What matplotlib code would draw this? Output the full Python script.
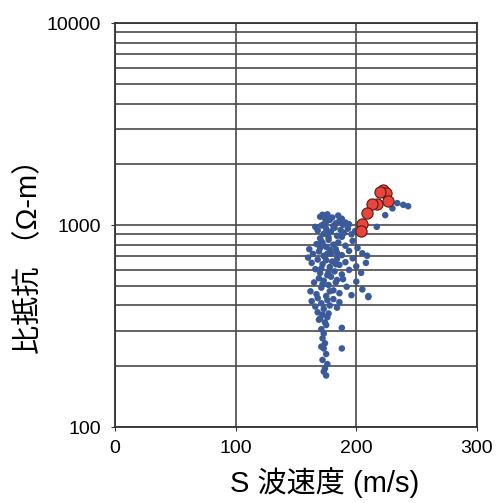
import matplotlib
matplotlib.use('Agg')
import matplotlib.pyplot as plt

# S-wave velocity (m/s) vs resistivity (ohm-m)
# blue cloud, band by band from the top down
band_a_vs = [170, 172, 174, 176, 178, 175, 173, 180, 183, 186, 188, 191, 194, 189, 185]
band_a_rho = [1100, 1125, 1080, 1130, 1060, 1040, 1010, 1090, 1020, 1050, 1075, 1030, 1010, 1005, 1115]
band_b_vs = [166, 168, 171, 173, 175, 177, 179, 181, 184, 187, 190, 193, 196, 199, 170, 176, 182, 188]
band_b_rho = [980, 940, 995, 905, 960, 870, 930, 990, 885, 945, 915, 960, 900, 935, 860, 905, 970, 875]
band_c_vs = [161, 164, 167, 169, 171, 173, 175, 177, 179, 181, 183, 185, 188, 191, 194, 197, 201, 205,
             209, 172, 178, 184, 170, 176]
band_c_rho = [760, 720, 805, 740, 830, 705, 780, 845, 725, 800, 760, 820, 710, 790, 745, 835, 770, 725,
              705, 815, 755, 730, 770, 720]
band_d_vs = [160, 163, 166, 168, 170, 172, 174, 176, 178, 180, 182, 184, 186, 188, 191, 194, 197, 200,
             204, 208, 171, 177, 183, 175]
band_d_rho = [690, 650, 605, 675, 580, 640, 695, 565, 620, 660, 590, 680, 635, 570, 655, 600, 685, 625,
              580, 650, 610, 585, 640, 670]
band_e_vs = [162, 165, 167, 169, 171, 173, 175, 177, 179, 181, 183, 186, 189, 192, 196, 200, 205, 210,
             172, 178, 184]
band_e_rho = [470, 520, 455, 545, 490, 530, 445, 505, 555, 475, 520, 460, 540, 495, 450, 525, 480, 445,
              510, 470, 535]
band_f_vs = [163, 166, 168, 171, 173, 176, 178, 181, 184, 186, 210]
band_f_rho = [420, 395, 435, 410, 385, 425, 400, 430, 390, 415, 440]
band_g_vs = [168, 170, 172, 174, 176, 171, 175, 173, 177, 169, 188]
band_g_rho = [370, 345, 360, 330, 350, 305, 320, 290, 365, 340, 310]
band_h_vs = [172, 174, 173, 175, 172, 176, 174, 173, 175, 171, 188]
band_h_rho = [275, 260, 245, 230, 215, 205, 195, 188, 180, 250, 245]
right_vs = [234, 239, 243, 230, 224, 217]
right_rho = [1285, 1260, 1240, 1210, 1120, 980]

# highlighted (red) points
red_vs = [222, 225, 220, 226, 217, 213, 209, 205, 204]
red_rho = [1490, 1440, 1460, 1315, 1270, 1270, 1146, 1011, 934]

blue_vs = (band_a_vs + band_b_vs + band_c_vs + band_d_vs + band_e_vs
           + band_f_vs + band_g_vs + band_h_vs + right_vs)
blue_rho = (band_a_rho + band_b_rho + band_c_rho + band_d_rho + band_e_rho
            + band_f_rho + band_g_rho + band_h_rho + right_rho)

plt.rcParams['font.family'] = ['Liberation Sans', 'Noto Sans CJK JP', 'DejaVu Sans']

fig = plt.figure(figsize=(5.03, 5.03), dpi=100)
ax = fig.add_axes([0.229, 0.151, 0.719, 0.803])

ax.set_yscale('log')
ax.set_xlim(0, 300)
ax.set_ylim(100, 10000)

ax.scatter(blue_vs, blue_rho, s=22, color='#3a5a9a', edgecolors='none', zorder=3)
ax.scatter(red_vs, red_rho, s=65, color='#e8463a', edgecolors='#5a1a14',
           linewidths=0.8, zorder=4)

ax.set_xticks([0, 100, 200, 300])
ax.set_yticks([100, 1000, 10000])
ax.set_yticklabels(['100', '1000', '10000'])
ax.yaxis.set_minor_formatter(matplotlib.ticker.NullFormatter())
ax.grid(True, which='both', axis='y', color='#4a4a4a', linewidth=1.2)
ax.grid(True, which='major', axis='x', color='#4a4a4a', linewidth=1.2)
ax.tick_params(axis='both', which='major', labelsize=14, length=3, color='#333333')
ax.tick_params(axis='x', pad=6)
ax.tick_params(axis='y', pad=7)
ax.tick_params(axis='y', which='minor', length=0)
for sp in ax.spines.values():
    sp.set_color('#333333')
    sp.set_linewidth(1.3)

ax.set_xlabel('S 波速度 (m/s)', fontsize=21)
ax.set_ylabel('比抵抗 （Ω-m）', fontsize=21)
ax.xaxis.set_label_coords(0.58, -0.1)
ax.yaxis.set_label_coords(-0.2, 0.44)

fig.savefig('out.png', dpi=100)
